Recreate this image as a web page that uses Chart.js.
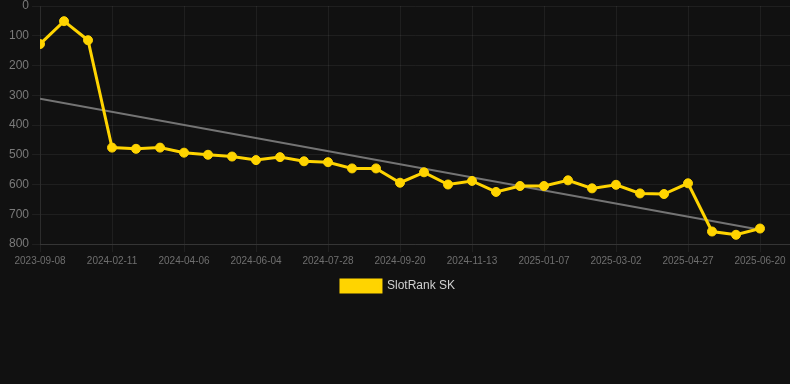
<!DOCTYPE html>
<html>
<head>
<meta charset="utf-8">
<script src="https://cdn.jsdelivr.net/npm/chart.js@4/dist/chart.umd.min.js"></script>
<style>
  html, body { margin: 0; padding: 0; background: #111111; }
  #wrap { position: relative; width: 790px; height: 302px; }
</style>
</head>
<body>
<div id="wrap"><canvas id="c"></canvas></div>
<script>
const dates = [
  "2023-09-08","2023-11-05","2024-01-02","2024-02-11","2024-02-29","2024-03-18",
  "2024-04-06","2024-04-26","2024-05-15","2024-06-04","2024-06-22","2024-07-10",
  "2024-07-28","2024-08-15","2024-09-02","2024-09-20","2024-10-08","2024-10-26",
  "2024-11-13","2024-12-01","2024-12-19","2025-01-07","2025-01-25","2025-02-12",
  "2025-03-02","2025-03-21","2025-04-08","2025-04-27","2025-05-15","2025-06-02",
  "2025-06-20"
];
const rankSK = [
  128, 51, 115, 476, 480, 476, 493, 500, 506, 518, 508, 522, 525, 546, 546,
  594, 559, 600, 588, 625, 605, 605, 586, 613, 601, 630, 632, 596, 758, 769, 748
];
const trendStartEnd = [312, 752];
const yTicks = [0, 100, 200, 300, 400, 500, 600, 700, 800];

const seriesPts = rankSK.map((v, i) => ({ x: i, y: v }));
const trendPts = [
  { x: 0, y: trendStartEnd[0] },
  { x: dates.length - 1, y: trendStartEnd[1] }
];

const yellow = '#FFD400';

new Chart(document.getElementById('c'), {
  type: 'line',
  data: {
    datasets: [
      {
        label: 'SlotRank SK',
        data: seriesPts,
        borderColor: yellow,
        backgroundColor: yellow,
        borderWidth: 3,
        pointRadius: 4.5,
        pointBorderWidth: 1,
        pointHoverRadius: 4.5,
        pointBackgroundColor: yellow,
        pointBorderColor: yellow,
        tension: 0,
        order: 1
      },
      {
        label: 'trend',
        data: trendPts,
        borderColor: '#747474',
        backgroundColor: '#747474',
        borderWidth: 2,
        pointRadius: 0,
        tension: 0,
        order: 2
      }
    ]
  },
  options: {
    responsive: true,
    maintainAspectRatio: false,
    animation: false,
    layout: { autoPadding: false, padding: { left: 6, right: 0, top: 6, bottom: 0 } },
    scales: {
      x: {
        type: 'linear',
        min: 0,
        max: 31.25,
        afterBuildTicks: (scale) => {
          const t = [];
          for (let i = 0; i < dates.length; i += 3) t.push({ value: i });
          scale.ticks = t;
        },
        ticks: {
          autoSkip: false,
          maxRotation: 0,
          color: '#6f6f6f',
          font: { size: 10 },
          callback: (v) => dates[v] !== undefined ? dates[v] : ''
        },
        grid: { color: 'rgba(255,255,255,0.06)', tickLength: 8 },
        border: { color: 'rgba(255,255,255,0.1)' }
      },
      y: {
        reverse: true,
        min: 0,
        max: 800,
        afterBuildTicks: (scale) => {
          scale.ticks = yTicks.map(v => ({ value: v }));
        },
        afterFit: (scale) => { scale.paddingTop = 0; scale.paddingBottom = 0; },
        ticks: {
          color: '#7a7a7a',
          font: { size: 12 }
        },
        grid: { color: 'rgba(255,255,255,0.06)', tickLength: 8 },
        border: { color: 'rgba(255,255,255,0.06)' }
      }
    },
    plugins: {
      legend: {
        position: 'bottom',
        labels: {
          color: '#d0d0d0',
          font: { size: 12 },
          filter: (item) => item.datasetIndex === 0
        }
      },
      tooltip: { enabled: false }
    }
  }
});
</script>
</body>
</html>
